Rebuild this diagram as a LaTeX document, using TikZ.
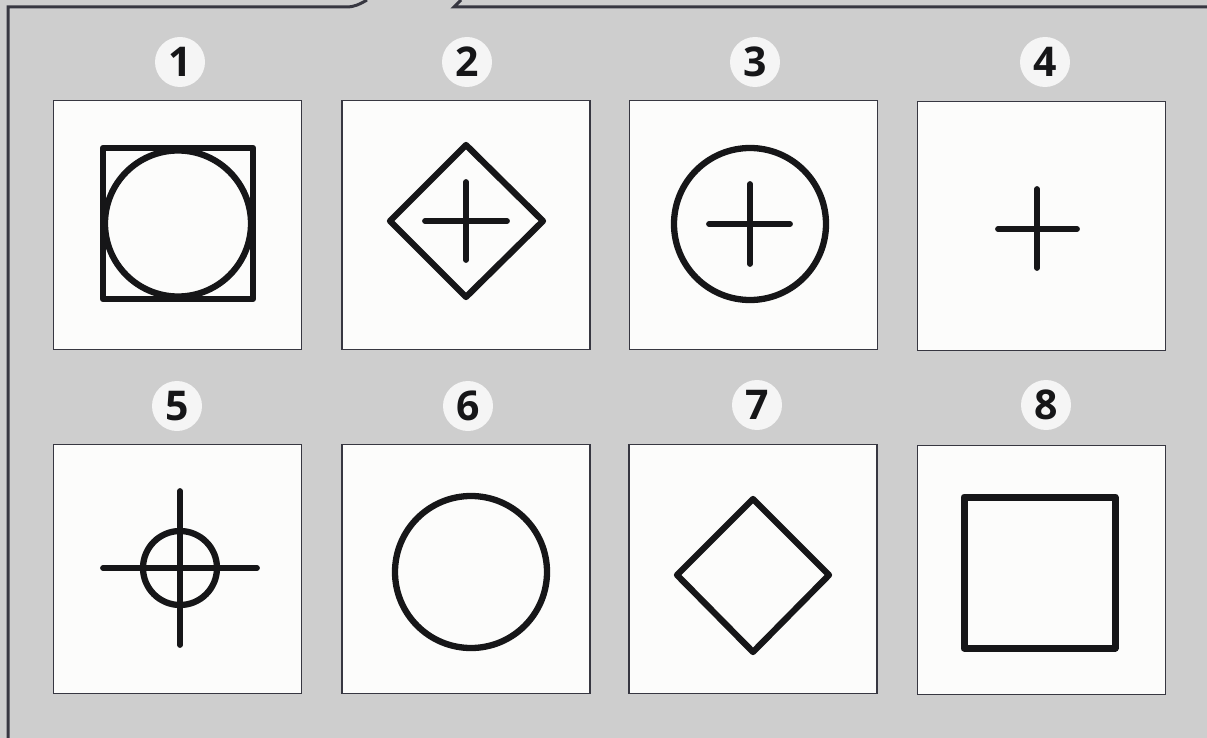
\documentclass[tikz,border=0pt]{standalone}
\usepackage{fontspec}
\newfontfamily\numfont{Open Sans}
\definecolor{bg}{RGB}{206,206,206}
\definecolor{ink}{RGB}{22,22,24}
\definecolor{framec}{RGB}{55,55,65}
\definecolor{paper}{RGB}{252,252,251}
\begin{document}
\begin{tikzpicture}[x=1pt,y=-1pt,
  panel/.style={draw=framec,line width=1.5pt,fill=paper,minimum width=248pt,minimum height=249pt,inner sep=0pt},
  sym/.style={draw=ink,line width=6.3pt,line join=round},
  crossl/.style={draw=ink,line width=5.8pt,line cap=round},
  num/.style={circle,fill=white,fill opacity=0.8,text opacity=1,minimum size=50pt,inner sep=0pt,
              font=\numfont\bfseries\fontsize{41}{41}\selectfont,text=ink},
  border/.style={draw=framec,line width=3pt}]
\useasboundingbox (0,0) rectangle (1207,738);
\fill[bg] (0,0) rectangle (1207,738);
% outer frame
\draw[border] (8,738) -- (8,7) -- (346,7) .. controls (355,7) and (360,4) .. (367,0);
\draw[border] (461,0) -- (454,7) -- (1207,7);
% number labels
\node[num] (n1) at (180,62) {1};
\node[num] (n2) at (467,62) {2};
\node[num] (n3) at (755,62) {3};
\node[num] (n4) at (1045,62) {4};
\node[num] (n5) at (177,406) {5};
\node[num] (n6) at (468,406) {6};
\node[num] (n7) at (757,405) {7};
\node[num] (n8) at (1046,405) {8};
% panels
\node[panel] (p1) at (177.5,225) {};
\node[panel] (p2) at (466,225) {};
\node[panel] (p3) at (753.5,225) {};
\node[panel] (p4) at (1041.5,226) {};
\node[panel] (p5) at (177.5,569) {};
\node[panel] (p6) at (466,569) {};
\node[panel] (p7) at (753,569) {};
\node[panel] (p8) at (1041.5,570) {};
% symbol 1: circle in square
\draw[sym] (103,148) rectangle (253,299);
\draw[sym] (178,223.5) circle[radius=73];
% symbol 2: diamond with cross
\draw[sym] (466,145) -- (543,221) -- (466,297) -- (390,221) -- cycle;
\draw[crossl] (425,221) -- (507,221);
\draw[crossl] (466,182) -- (466,260);
% symbol 3: circle with cross
\draw[sym] (750,224) circle[radius=76];
\draw[crossl] (709,224) -- (790,224);
\draw[crossl] (750,184) -- (750,264);
% symbol 4: cross
\draw[crossl] (998,229) -- (1077,229);
\draw[crossl] (1037,189) -- (1037,268);
% symbol 5: crosshair
\draw[sym] (180,568) circle[radius=37];
\draw[crossl] (103,568) -- (257,568);
\draw[crossl] (180,491) -- (180,645);
% symbol 6: circle
\draw[sym] (471,572) circle[radius=76];
% symbol 7: diamond
\draw[sym] (753,499) -- (829,575) -- (753,652) -- (677,575) -- cycle;
% symbol 8: square
\draw[sym,line width=7pt] (964,497) rectangle (1115,648);
\end{tikzpicture}
\end{document}
